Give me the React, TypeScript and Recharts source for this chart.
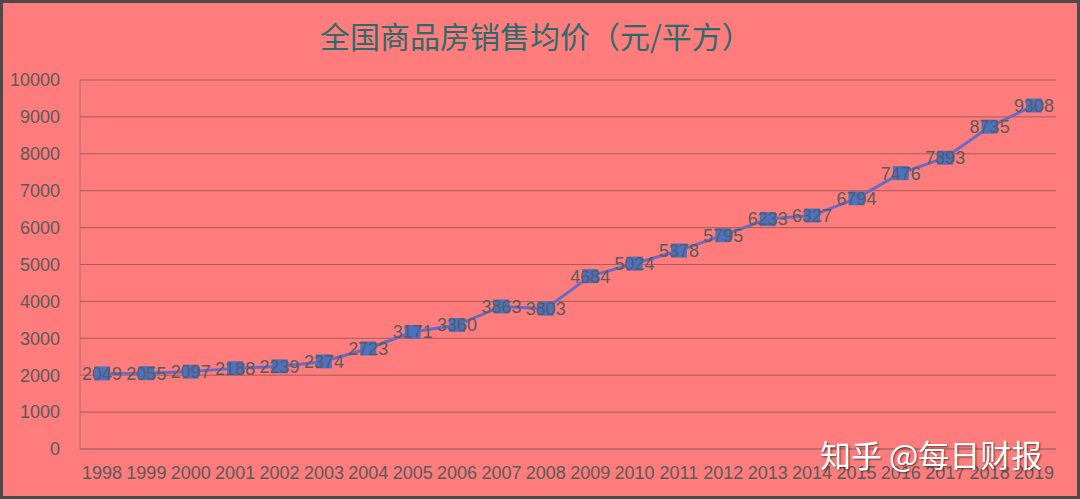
import React from 'react';
import { CartesianGrid, LabelList, Line, LineChart, XAxis, YAxis } from 'recharts';

const years = ['1998', '1999', '2000', '2001', '2002', '2003', '2004', '2005', '2006', '2007', '2008',
    '2009', '2010', '2011', '2012', '2013', '2014', '2015', '2016', '2017', '2018', '2019'];
const prices = [2049, 2055, 2097, 2188, 2239, 2374, 2723, 3171, 3360, 3863, 3803,
    4684, 5024, 5378, 5795, 6233, 6327, 6794, 7476, 7893, 8735, 9308];
const yTicks = [0, 1000, 2000, 3000, 4000, 5000, 6000, 7000, 8000, 9000, 10000];

const data = years.map((year, i) => ({ year, price: prices[i] }));

const FONT = '"Liberation Sans", Arial, sans-serif';
const TEXT = '#5a5a5a';

function SquareDot(props: any) {
    const { cx, cy } = props;
    if (cx == null || cy == null) return null;
    return <rect x={cx - 8} y={cy - 7} width={16} height={14} fill="#4a72c6" />;
}

export default function App() {
    return (
        <div
            style={{
                position: 'fixed',
                top: 0,
                left: 0,
                width: 1080,
                height: 499,
                boxSizing: 'border-box',
                border: '3px solid #4a4a4a',
                background: '#ff7c7c',
                overflow: 'hidden',
            }}
        >
            <div
                style={{
                    position: 'absolute',
                    top: 10,
                    left: 0,
                    width: 1066,
                    textAlign: 'center',
                    fontFamily: '"Noto Sans CJK SC", sans-serif',
                    fontSize: 30,
                    color: '#2d6a6c',
                }}
            >
                全国商品房销售均价（元/平方）
            </div>
            <LineChart
                width={1074}
                height={493}
                data={data}
                margin={{ top: 77, right: 18, bottom: 0, left: 0 }}
                style={{ position: 'absolute', top: 0, left: -3 }}
            >
                <CartesianGrid vertical={false} stroke="#a85c5c" />
                <XAxis
                    dataKey="year"
                    height={47}
                    padding={{ left: 22, right: 22 }}
                    tickLine={false}
                    axisLine={{ stroke: '#a86a6a' }}
                    tick={{ fill: TEXT, fontSize: 18, fontFamily: FONT }}
                    tickMargin={11}
                    interval={0}
                />
                <YAxis
                    width={80}
                    domain={[0, 10000]}
                    ticks={yTicks}
                    tickLine={false}
                    axisLine={{ stroke: '#a86a6a' }}
                    tick={{ fill: TEXT, fontSize: 18, fontFamily: FONT }}
                    tickMargin={14}
                />
                <Line
                    type="linear"
                    dataKey="price"
                    stroke="#6a6ac4"
                    strokeWidth={3}
                    dot={<SquareDot />}
                    isAnimationActive={false}
                >
                    <LabelList
                        dataKey="price"
                        position="center"
                        fill={TEXT}
                        fontSize={18}
                        fontFamily={FONT}
                    />
                </Line>
            </LineChart>
            <div
                style={{
                    position: 'absolute',
                    left: 817,
                    top: 428,
                    fontFamily: '"Noto Sans CJK SC", sans-serif',
                    fontSize: 31,
                    color: '#ffffff',
                    textShadow: '1px 1px 2px rgba(0,0,0,0.6)',
                    whiteSpace: 'nowrap',
                }}
            >
                知乎 @每日财报
            </div>
        </div>
    );
}
